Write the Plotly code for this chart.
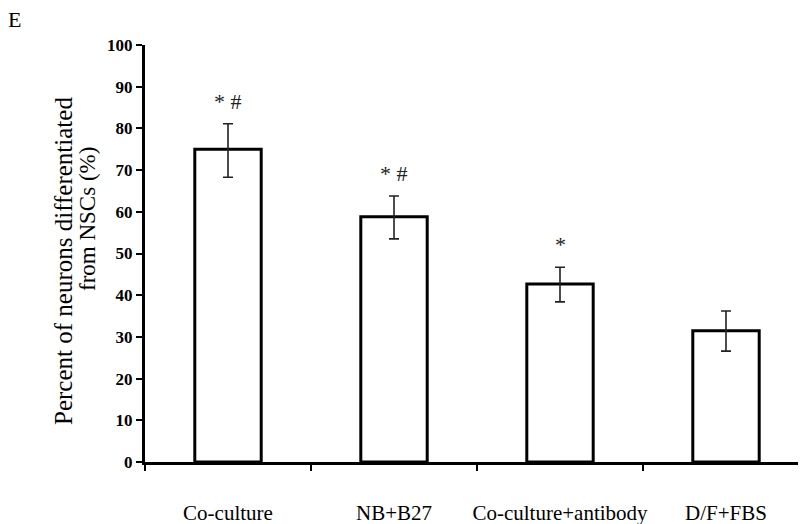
import plotly.graph_objects as go

categories = ["Co-culture", "NB+B27", "Co-culture+antibody", "D/F+FBS"]
values = [75.0, 58.8, 42.7, 31.5]
err_plus = [6.1, 5.0, 4.0, 4.7]
err_minus = [6.7, 5.3, 4.3, 4.9]
sig_labels = ["* #", "* #", "*", ""]
y_ticks = [0, 10, 20, 30, 40, 50, 60, 70, 80, 90, 100]
y_title_lines = ["Percent of neurons differentiated", "from NSCs (%)"]
panel_label = "E"

SERIF = "Liberation Serif, Times New Roman, serif"

# page has an 8px body margin; figure is sized to fit inside the window
W, H = 798, 516
L, T, B = 137, 37, 62
PW, PH = W - L, H - T - B
OFF = 8


def px(xp):
    return (xp - OFF - L) / PW


def py(yp):
    return (H - B - (yp - OFF)) / PH


fig = go.Figure()
fig.add_trace(go.Bar(
    x=categories, y=values, width=0.40,
    marker=dict(color="white", line=dict(color="black", width=3)),
    error_y=dict(type="data", symmetric=False, array=err_plus, arrayminus=err_minus,
                 color="#222222", thickness=1.6, width=5),
    showlegend=False,
))

for c, v, e, s in zip(categories, values, err_plus, sig_labels):
    if s:
        fig.add_annotation(x=c, y=v + e, text=s, showarrow=False, yanchor="bottom",
                           yshift=8, font=dict(family=SERIF, size=22, color="#222222"))

fig.add_annotation(xref="paper", yref="paper", x=px(63), y=py(261),
                   text=y_title_lines[0], textangle=-90, showarrow=False,
                   xanchor="center", yanchor="middle",
                   font=dict(family=SERIF, size=25, color="black"))
fig.add_annotation(xref="paper", yref="paper", x=px(88), y=py(219),
                   text=y_title_lines[1], textangle=-90, showarrow=False,
                   xanchor="center", yanchor="middle",
                   font=dict(family=SERIF, size=23, color="black"))
fig.add_annotation(xref="paper", yref="paper", x=px(6), y=py(20),
                   text=panel_label, showarrow=False, xanchor="left", yanchor="middle",
                   font=dict(family=SERIF, size=22, color="black"))

fig.update_layout(
    width=W, height=H,
    margin=dict(l=L, r=0, t=T, b=B, autoexpand=False),
    plot_bgcolor="white", paper_bgcolor="white",
    bargap=0.6,
)
fig.update_xaxes(
    type="category", range=[-0.5, -0.5 + PW / 166], automargin=False,
    showline=True, linecolor="black", linewidth=3,
    ticks="outside", tickson="boundaries", ticklen=6, tickwidth=2, tickcolor="black",
    ticklabelstandoff=30, tickangle=0,
    tickfont=dict(family=SERIF, size=21, color="black"),
    showgrid=False, zeroline=False,
)
fig.update_yaxes(
    range=[0, 100], tickvals=y_ticks, ticktext=[str(t) for t in y_ticks], automargin=False,
    showline=True, linecolor="black", linewidth=3,
    ticks="outside", ticklen=6, tickwidth=2, tickcolor="black",
    tickfont=dict(family=SERIF, size=17, color="black", weight="bold"),
    showgrid=False, zeroline=False,
)

fig.write_html("out.html")
